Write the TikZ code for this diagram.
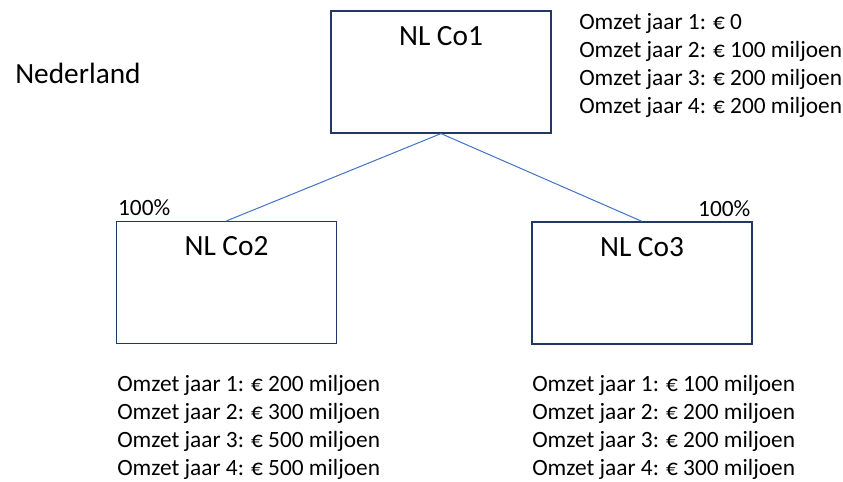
\documentclass[tikz,border=0pt]{standalone}
\usepackage{fontspec}
\setmainfont{Carlito}
\usetikzlibrary{positioning}
\definecolor{boxrand}{HTML}{203864}
\definecolor{lijnblauw}{HTML}{4472C4}

\begin{document}
\begin{tikzpicture}[x=0.75pt,y=-0.75pt,
  entiteit/.style={draw=boxrand,line width=0.9pt,minimum width=165pt,minimum height=91.5pt,inner sep=0pt},
  naam/.style={anchor=base,inner sep=0pt,font=\fontsize{22}{26}\selectfont},
  omzet/.style={anchor=north west,align=left,inner sep=0pt,font=\fontsize{17.5}{21}\selectfont},
  pct/.style={inner sep=0pt,font=\fontsize{17.5}{21}\selectfont}]

\useasboundingbox (0,0) rectangle (843,482);

\begin{scope}
\node[entiteit] (co1) at (441,72) {};
\node[entiteit] (co2) at (226.5,282.5) {};
\node[entiteit] (co3) at (642,283) {};

\node[naam] (co1naam) at ([shift={(0,35)}]co1.north) {NL Co1};
\node[naam] (co2naam) at ([shift={(0,35)}]co2.north) {NL Co2};
\node[naam] (co3naam) at ([shift={(0,35)}]co3.north) {NL Co3};

\node[anchor=base west,inner sep=0pt,font=\fontsize{22}{26}\selectfont] (land) at (15,83) {Nederland};

\node[pct,anchor=base west] (pct2) at ([shift={(2,-5)}]co2.north west) {100\%};
\node[pct,anchor=base east] (pct3) at ([shift={(-2,-5)}]co3.north east) {100\%};

\draw[lijnblauw,line width=0.75pt] (co1.south) -- (co2.north);
\draw[lijnblauw,line width=0.75pt] (co1.south) -- (co3.north);

\node[omzet] (omzet1) at (579,12.7) {Omzet jaar 1: € 0\\Omzet jaar 2: € 100 miljoen\\Omzet jaar 3: € 200 miljoen\\Omzet jaar 4: € 200 miljoen};
\node[omzet] (omzet2) at (117,375) {Omzet jaar 1: € 200 miljoen\\Omzet jaar 2: € 300 miljoen\\Omzet jaar 3: € 500 miljoen\\Omzet jaar 4: € 500 miljoen};
\node[omzet] (omzet3) at (532,375) {Omzet jaar 1: € 100 miljoen\\Omzet jaar 2: € 200 miljoen\\Omzet jaar 3: € 200 miljoen\\Omzet jaar 4: € 300 miljoen};
\end{scope}

\end{tikzpicture}
\end{document}
